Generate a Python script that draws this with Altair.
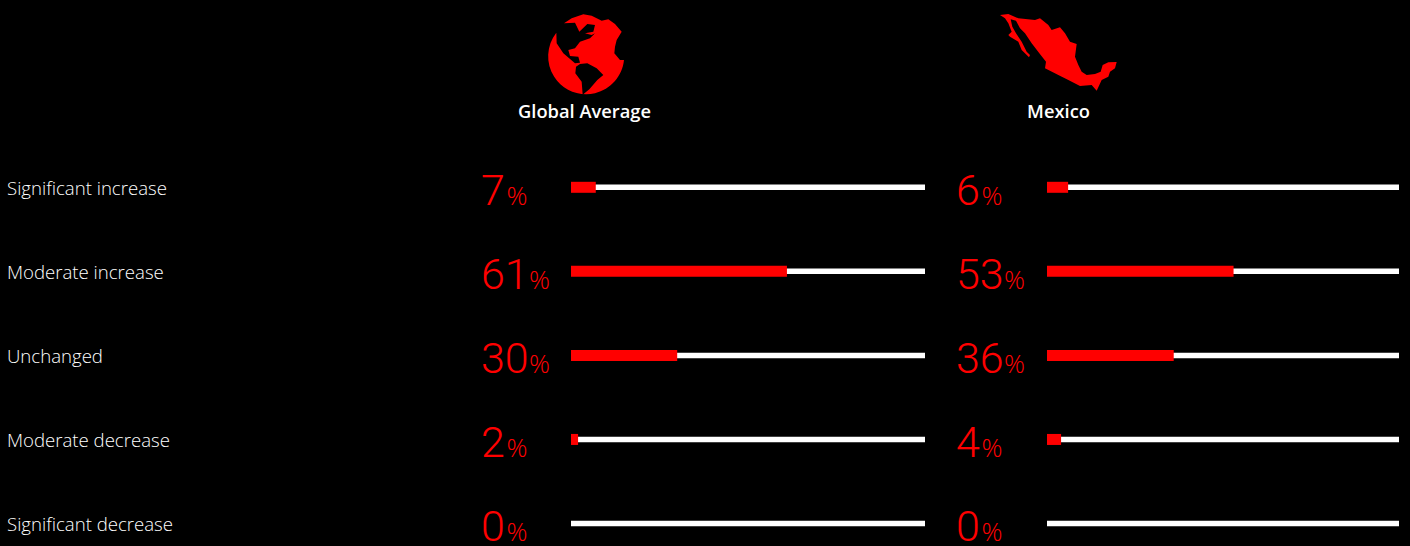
import altair as alt
import pandas as pd

categories = ["Significant increase", "Moderate increase", "Unchanged", "Moderate decrease", "Significant decrease"]
global_values = [7, 61, 30, 2, 0]
mexico_values = [6, 53, 36, 4, 0]
panel_names = ["Global Average", "Mexico"]

RED = "#ff0000"
WHITE = "#ffffff"
LABEL_FONT = "Open Sans"
NUMBER_FONT = "Roboto"


def outline(points, ox, oy, cx, cy):
    """Turn 3x-scaled icon outline points into a path centred on (cx, cy)."""
    return [(ox + x / 3 - cx, oy + y / 3 - cy) for x, y in points]


def polygon(points):
    return "M" + "L".join(f"{x:.2f},{y:.2f}" for x, y in points) + "Z"


# Globe: a disc silhouette with the Americas cut out in black
GLOBE_CX, GLOBE_CY = 586, 56
globe_upper = outline(
    [(192, 70), (215, 55), (250, 43), (275, 47), (290, 55), (305, 62), (325, 58), (345, 72),
     (365, 95), (350, 120), (345, 140), (343, 160), (360, 180), (372, 180)],
    500, 0, GLOBE_CX, GLOBE_CY)
globe_lower = outline(
    [(169, 98), (170, 130), (190, 160), (225, 190), (240, 188), (235, 170), (210, 168), (205, 150),
     (225, 145), (240, 125), (270, 115), (285, 100), (275, 105), (255, 100), (280, 95), (285, 75),
     (262, 72), (238, 95), (225, 68)],
    500, 0, GLOBE_CX, GLOBE_CY)
globe_path = (
    "M" + "L".join(f"{x:.2f},{y:.2f}" for x, y in globe_upper)
    + f"A38,38 0 1 1 {globe_lower[0][0]:.2f},{globe_lower[0][1]:.2f}"
    + "L" + "L".join(f"{x:.2f},{y:.2f}" for x, y in globe_lower[1:]) + "Z"
)
south_america_path = polygon(outline(
    [(228, 200), (240, 192), (262, 190), (290, 205), (310, 225), (292, 240), (268, 268), (248, 284),
     (245, 245), (226, 220)],
    500, 0, GLOBE_CX, GLOBE_CY))

# Mexico silhouette: mainland, then the Gulf of California slit, then Baja California
MEXICO_CX, MEXICO_CY = 1058, 52
mexico_path = polygon(outline(
    [(60, 45), (85, 42), (115, 55), (165, 60), (180, 55), (205, 75), (215, 90), (240, 82), (255, 100),
     (270, 125), (290, 132), (285, 170), (295, 195), (305, 215), (320, 225), (345, 222), (362, 215),
     (368, 195), (385, 187), (410, 186), (405, 205), (390, 215), (385, 230), (365, 240), (350, 272),
     (335, 255), (300, 258), (265, 240), (235, 225), (195, 205), (198, 185), (178, 160), (155, 130),
     (135, 100), (120, 85), (108, 62), (92, 58), (97, 80), (108, 100), (125, 125), (140, 155),
     (150, 165), (147, 172), (125, 150), (115, 125), (90, 110), (85, 105), (95, 95), (85, 70), (75, 55)],
    980, 0, MEXICO_CX, MEXICO_CY))

rows = pd.DataFrame({
    "category": categories,
    "global": global_values,
    "mexico": mexico_values,
    "full": [100] * len(categories),
})

y_row = alt.Y("category:N", sort=categories, axis=None,
              scale=alt.Scale(type="point", domain=categories, range=[187.3, 523.5], padding=0))


def bars(field, x_start, x_end):
    x_scale = alt.Scale(domain=[0, 100], range=[x_start, x_end], nice=False, zero=True)
    track = alt.Chart(rows).mark_bar(height=5.5, color=WHITE).encode(
        x=alt.X("full:Q", scale=x_scale, axis=None), y=y_row)
    value = alt.Chart(rows).mark_bar(height=11, color=RED).encode(
        x=alt.X(f"{field}:Q", scale=x_scale, axis=None), y=y_row)
    return [track, value]


def numbers(field, x_left):
    number = (
        alt.Chart(rows)
        .transform_calculate(px=str(x_left), label=f"datum.{field} + ''")
        .mark_text(align="left", baseline="alphabetic", dy=17.5, font=NUMBER_FONT,
                   fontWeight=300, fontSize=43, color=RED)
        .encode(x=alt.X("px:Q", scale=None), y=y_row, text="label:N")
    )
    percent = (
        alt.Chart(rows)
        .transform_calculate(px=f"{x_left} + (datum.{field} >= 10 ? 48 : 25.5)", label="'%'")
        .mark_text(align="left", baseline="alphabetic", dy=17.5, font=LABEL_FONT,
                   fontWeight=300, fontSize=26, color=RED)
        .encode(x=alt.X("px:Q", scale=None), y=y_row, text="label:N")
    )
    return [number, percent]


row_labels = (
    alt.Chart(rows)
    .transform_calculate(px="7")
    .mark_text(align="left", baseline="middle", dy=1.5, font=LABEL_FONT, fontWeight=300,
               fontSize=18.6, color=WHITE)
    .encode(x=alt.X("px:Q", scale=None), y=y_row, text="category:N")
)

headers = pd.DataFrame({"name": panel_names, "cx": [584.5, 1058.5], "cy": [113, 113]})
header_text = alt.Chart(headers).mark_text(
    align="center", baseline="middle", font=LABEL_FONT, fontSize=18.3, fontWeight=600, color=WHITE,
).encode(
    x=alt.X("cx:Q", scale=None),
    y=alt.Y("cy:Q", scale=None),
    text="name:N",
)


def icon(path, cx, cy, colour):
    spot = pd.DataFrame({"cx": [cx], "cy": [cy]})
    return alt.Chart(spot).mark_point(
        shape=path, size=4, filled=True, color=colour, opacity=1, strokeWidth=0,
    ).encode(x=alt.X("cx:Q", scale=None), y=alt.Y("cy:Q", scale=None))


layers = (
    bars("global", 571, 925)
    + bars("mexico", 1047, 1399)
    + numbers("global", 481)
    + numbers("mexico", 956)
    + [
        row_labels,
        header_text,
        icon(globe_path, GLOBE_CX, GLOBE_CY, RED),
        icon(south_america_path, GLOBE_CX, GLOBE_CY, "#000000"),
        icon(mexico_path, MEXICO_CX, MEXICO_CY, RED),
    ]
)

chart = (
    alt.layer(*layers)
    .resolve_scale(x="independent", y="independent")
    .properties(width=1410, height=546, background="#000000", padding=0,
                autosize=alt.AutoSizeParams(type="none"))
    .configure_view(stroke=None)
)

chart.save("out.html", embed_options={"renderer": "svg", "actions": False})
